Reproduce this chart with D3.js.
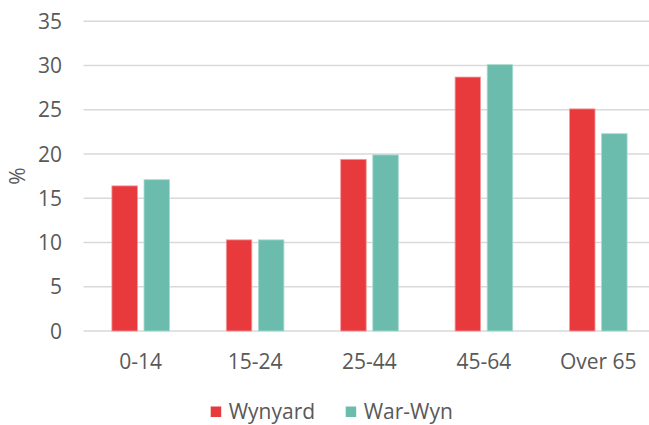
<!DOCTYPE html>
<html>
<head>
<meta charset="utf-8">
<script src="https://cdn.jsdelivr.net/npm/d3@7"></script>
<style>
body { margin: 0; background: #fff; }
text { font-family: "Open Sans", sans-serif; fill: #595959; }
</style>
</head>
<body>
<div id="chart"></div>
<script>
var categories = ["0-14", "15-24", "25-44", "45-64", "Over 65"]
var series = ["Wynyard", "War-Wyn"]
var wynyard = [16.4, 10.3, 19.4, 28.7, 25.1]
var warWyn = [17.1, 10.3, 19.9, 30.1, 22.3]
var yTicks = [0, 5, 10, 15, 20, 25, 30, 35]
var colors = ["#e8393d", "#6cbcae"]
var strokes = ["#f39a9c", "#a9dbd1"]

var w = 649, h = 425
var p_left = 83.5, p_right = 655.5, p_top = 21.3, p_bottom = 331
var fs = "21px"

var svg = d3.select("#chart")
    .append("svg")
        .attr("width", w)
        .attr("height", h)

var x = d3.scaleBand().domain(categories).range([p_left, p_right])
var y = d3.scaleLinear().domain([0, 35]).range([p_bottom, p_top])
var bw = 25.5, gap = 6.6

// gridlines
svg.selectAll(".grid").data(yTicks).enter()
    .append("line")
    .attr("x1", p_left)
    .attr("x2", p_right)
    .attr("y1", function(d){ return y(d) })
    .attr("y2", function(d){ return y(d) })
    .style("stroke", "#d9d9d9")
    .style("stroke-width", "1.5px")

// y labels
svg.selectAll(".ylab").data(yTicks).enter()
    .append("text")
    .attr("x", 62)
    .attr("y", function(d){ return y(d) })
    .attr("dy", "0.36em")
    .attr("text-anchor", "end")
    .style("font-size", fs)
    .text(function(d){ return d })

svg.append("text")
    .attr("transform", "translate(17,176) rotate(-90)")
    .attr("text-anchor", "middle")
    .attr("dy", "0.36em")
    .style("font-size", fs)
    .text("%")

var rows = categories.map(function(c, i){ return [wynyard[i], warWyn[i]] })

rows.forEach(function(vals, i){
    var cx = x(categories[i]) + x.bandwidth()/2
    vals.forEach(function(v, k){
        var bx = k == 0 ? cx - gap/2 - bw : cx + gap/2
        svg.append("rect")
            .attr("x", bx)
            .attr("y", y(v))
            .attr("width", bw)
            .attr("height", y(0) - y(v))
            .style("fill", colors[k])
            .style("stroke", strokes[k])
            .style("stroke-width", "0.8px")
    })
})

// x labels
svg.selectAll(".xlab").data(categories).enter()
    .append("text")
    .attr("x", function(d){ return x(d) + x.bandwidth()/2 })
    .attr("y", 361)
    .attr("dy", "0.36em")
    .attr("text-anchor", "middle")
    .style("font-size", fs)
    .text(function(d){ return d })

// legend
var legX = [210.7, 345.7]
series.forEach(function(s, k){
    svg.append("rect")
        .attr("x", legX[k])
        .attr("y", 406.5)
        .attr("width", 10.5)
        .attr("height", 10.5)
        .style("fill", colors[k])
    svg.append("text")
        .attr("x", legX[k] + 18)
        .attr("y", 411.5)
        .attr("dy", "0.36em")
        .style("font-size", fs)
        .text(s)
})
</script>
</body>
</html>
